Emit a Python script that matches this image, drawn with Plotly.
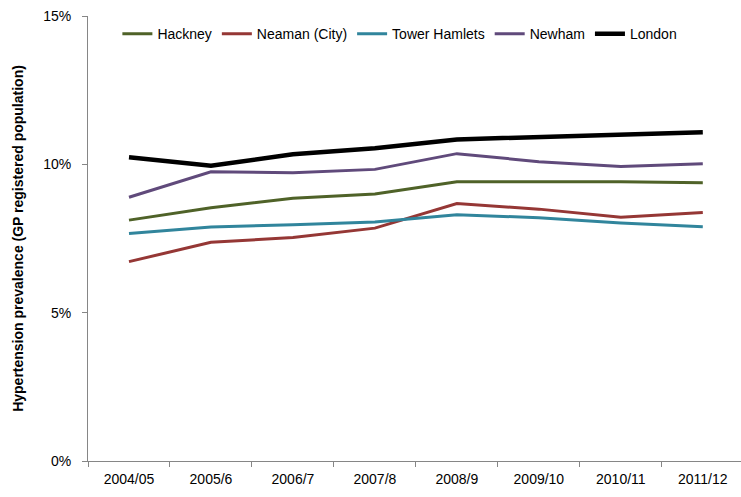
import plotly.graph_objects as go

years = ["2004/05", "2005/6", "2006/7", "2007/8", "2008/9", "2009/10", "2010/11", "2011/12"]
hackney = [8.12, 8.54, 8.86, 9.00, 9.41, 9.41, 9.41, 9.38]
neaman = [6.72, 7.37, 7.53, 7.85, 8.68, 8.49, 8.22, 8.38]
tower_hamlets = [7.67, 7.89, 7.96, 8.06, 8.30, 8.20, 8.02, 7.90]
newham = [8.89, 9.75, 9.72, 9.83, 10.36, 10.09, 9.93, 10.02]
london = [10.24, 9.95, 10.34, 10.54, 10.84, 10.93, 11.00, 11.08]

series = [
    ("Hackney", hackney, "#4F6228", 3),
    ("Neaman (City)", neaman, "#953735", 3),
    ("Tower Hamlets", tower_hamlets, "#31859C", 3),
    ("Newham", newham, "#604A7B", 3),
    ("London", london, "#000000", 4.5),
]

fig = go.Figure()
for name, vals, color, w in series:
    fig.add_trace(go.Scatter(x=years, y=vals, name=name, mode="lines",
                             line=dict(color=color, width=w)))

axis_col = "#868686"
fig.update_layout(
    width=741, height=497,
    margin=dict(l=88, r=0, t=16, b=36),
    paper_bgcolor="white", plot_bgcolor="white",
    font=dict(family="Liberation Sans, Arial, sans-serif", size=14, color="#000000"),
    showlegend=True,
    legend=dict(orientation="h", x=0.045, y=0.995, xanchor="left", yanchor="top",
                font=dict(size=14), bgcolor="rgba(0,0,0,0)", itemwidth=30,
                tracegroupgap=0),
    xaxis=dict(type="category", range=[-0.5, 7.466], tickson="boundaries",
               showline=True, linecolor=axis_col, linewidth=1,
               ticks="outside", ticklen=5, tickcolor=axis_col,
               showgrid=False, zeroline=False, tickfont=dict(size=14),
               ticklabelstandoff=5),
    yaxis=dict(range=[0, 15], dtick=5, ticksuffix="%",
               showline=True, linecolor=axis_col, linewidth=1,
               ticks="outside", ticklen=5, tickcolor=axis_col,
               showgrid=False, zeroline=False, tickfont=dict(size=14),
               ticklabelstandoff=8,
               title=dict(text="<b>Hypertension prevalence (GP registered population)</b>",
                          font=dict(size=14), standoff=16)),
)

fig.write_html("out.html")
